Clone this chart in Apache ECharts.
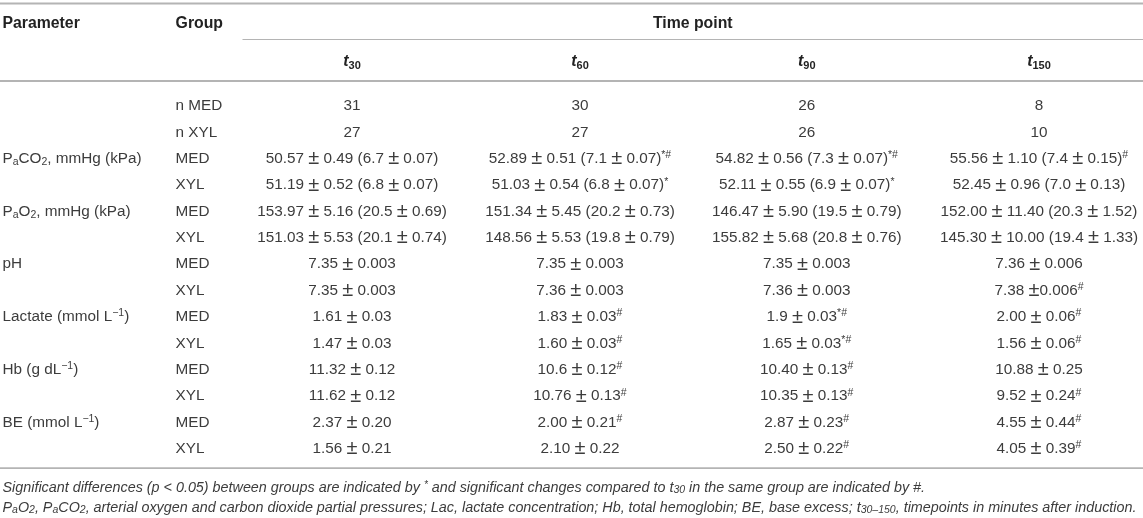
<!DOCTYPE html>
<html>
<head>
<meta charset="utf-8">
<title>Blood gas table</title>
<style>html,body{margin:0;padding:0;background:#fff}#main{width:1143px;height:518px}</style>
<script src="https://cdn.jsdelivr.net/npm/echarts@6/dist/echarts.min.js"></script>
</head>
<body>
<div id="main"></div>
<script>
// _x_ = subscript, ^x^ = superscript
var parameters = ['', '', 'P_a_CO_2_, mmHg (kPa)', '', 'P_a_O_2_, mmHg (kPa)', '', 'pH', '', 'Lactate (mmol L^\u22121^)', '', 'Hb (g dL^\u22121^)', '', 'BE (mmol L^\u22121^)', ''];
var groups = ['n MED', 'n XYL', 'MED', 'XYL', 'MED', 'XYL', 'MED', 'XYL', 'MED', 'XYL', 'MED', 'XYL', 'MED', 'XYL'];
var timePoints = ['30', '60', '90', '150'];
var t30 = ['31', '27', '50.57 ± 0.49 (6.7 ± 0.07)', '51.19 ± 0.52 (6.8 ± 0.07)', '153.97 ± 5.16 (20.5 ± 0.69)', '151.03 ± 5.53 (20.1 ± 0.74)', '7.35 ± 0.003', '7.35 ± 0.003', '1.61 ± 0.03', '1.47 ± 0.03', '11.32 ± 0.12', '11.62 ± 0.12', '2.37 ± 0.20', '1.56 ± 0.21'];
var t60 = ['30', '27', '52.89 ± 0.51 (7.1 ± 0.07)^*#^', '51.03 ± 0.54 (6.8 ± 0.07)^*^', '151.34 ± 5.45 (20.2 ± 0.73)', '148.56 ± 5.53 (19.8 ± 0.79)', '7.35 ± 0.003', '7.36 ± 0.003', '1.83 ± 0.03^#^', '1.60 ± 0.03^#^', '10.6 ± 0.12^#^', '10.76 ± 0.13^#^', '2.00 ± 0.21^#^', '2.10 ± 0.22'];
var t90 = ['26', '26', '54.82 ± 0.56 (7.3 ± 0.07)^*#^', '52.11 ± 0.55 (6.9 ± 0.07)^*^', '146.47 ± 5.90 (19.5 ± 0.79)', '155.82 ± 5.68 (20.8 ± 0.76)', '7.35 ± 0.003', '7.36 ± 0.003', '1.9 ± 0.03^*#^', '1.65 ± 0.03^*#^', '10.40 ± 0.13^#^', '10.35 ± 0.13^#^', '2.87 ± 0.23^#^', '2.50 ± 0.22^#^'];
var t150 = ['8', '10', '55.56 ± 1.10 (7.4 ± 0.15)^#^', '52.45 ± 0.96 (7.0 ± 0.13)', '152.00 ± 11.40 (20.3 ± 1.52)', '145.30 ± 10.00 (19.4 ± 1.33)', '7.36 ± 0.006', '7.38 ±0.006^#^', '2.00 ± 0.06^#^', '1.56 ± 0.06^#^', '10.88 ± 0.25', '9.52 ± 0.24^#^', '4.55 ± 0.44^#^', '4.05 ± 0.39^#^'];
var footnotes = [
    'Significant differences (p < 0.05) between groups are indicated by ^*^ and significant changes compared to t_30_ in the same group are indicated by #.',
    'P_a_O_2_, P_a_CO_2_, arterial oxygen and carbon dioxide partial pressures; Lac, lactate concentration; Hb, total hemoglobin; BE, base excess; t_30\u2013150_, timepoints in minutes after induction.'
];

var FONT = '"Liberation Sans", Arial, sans-serif';
var TEXT = '#3c3c3c';
var RULE = '#b4b4b4';
var FIRST_ROW = 7;
var LINE = 18;
var FOOT_LINE = 16;

// column and row tracks of the matrix, px
var colSizes = [175.5, 67, 219, 237, 216.5, 20, 208];
var rowSizes = [2.5, 2, 34.5, 1, 40, 2, 8.8];
groups.forEach(function () { rowSizes.push(26.38); });
rowSizes.push(7.2, 1.7, 9, 20, 20);

function richText(str, base, sub, sup) {
    // split the markup into rich text tokens
    return str.split(/(_[^_]+_|\^[^^]+\^|±)/).filter(Boolean).map(function (p) {
        if (p === '±') return '{pm|±}';
        if (p[0] === '_') return '{' + sub + '|' + p.slice(1, -1) + '}';
        if (p[0] === '^') return '{' + sup + '|' + p.slice(1, -1) + '}';
        return '{' + base + '|' + p + '}';
    }).join('');
}

var richStyles = {
    n: {fontFamily: FONT, fontSize: 15.3, color: TEXT, lineHeight: LINE},
    pm: {fontFamily: FONT, fontSize: 20, color: TEXT, lineHeight: LINE},
    sb: {fontFamily: FONT, fontSize: 10.5, color: TEXT, lineHeight: 12, verticalAlign: 'bottom'},
    sp: {fontFamily: FONT, fontSize: 10.5, color: TEXT, lineHeight: 12, verticalAlign: 'top'},
    i: {fontFamily: FONT, fontSize: 14.35, fontStyle: 'italic', color: TEXT, lineHeight: FOOT_LINE},
    isb: {fontFamily: FONT, fontSize: 10.5, fontStyle: 'italic', color: TEXT, lineHeight: 11, verticalAlign: 'bottom'},
    isp: {fontFamily: FONT, fontSize: 10, fontStyle: 'italic', color: TEXT, lineHeight: 11, verticalAlign: 'top'},
    b: {fontFamily: FONT, fontSize: 15.8, fontWeight: 'bold', color: '#222', lineHeight: LINE},
    bi: {fontFamily: FONT, fontSize: 16, fontWeight: 'bold', fontStyle: 'italic', color: '#222', lineHeight: LINE},
    bsb: {fontFamily: FONT, fontSize: 11, fontWeight: 'bold', color: '#222', lineHeight: 12, verticalAlign: 'bottom'}
};

// rich text sits at the top of the cell box, so push it down to the middle
function topPad(row) {
    return Math.max(0, (rowSizes[row] - LINE) / 2) + 2;
}

function cell(coord, row, text, left, pad) {
    return {
        coord: [coord, row],
        value: text,
        mergeCells: Array.isArray(coord),
        label: {
            show: true,
            position: left ? 'insideLeft' : 'inside',
            distance: 0,
            align: left ? 'left' : 'center',
            padding: [pad == null ? topPad(row) : pad, 0, 0, left ? left : 0],
            rich: richStyles
        }
    };
}

function ruleRow(fromCol, row) {
    return {
        coord: [[fromCol, colSizes.length - 1], row],
        mergeCells: true,
        value: '',
        itemStyle: {color: RULE, borderWidth: 0}
    };
}

var cells = [];
cells.push(ruleRow(0, 1), ruleRow(2, 3), ruleRow(0, 5), ruleRow(0, 22));

// header
cells.push(cell(0, 2, '{b|Parameter}', 2.5));
cells.push(cell(1, 2, '{b|Group}', 0.1));
cells.push(cell([2, 6], 2, '{b|Time point}'));
var valueCols = [2, 3, 4, 6];
timePoints.forEach(function (tp, i) {
    cells.push(cell(valueCols[i], 4, '{bi|t}{bsb|' + tp + '}'));
});

// body
[t30, t60, t90, t150].forEach(function (vals, i) {
    vals.forEach(function (v, r) {
        cells.push(cell(valueCols[i], FIRST_ROW + r, richText(v, 'n', 'sb', 'sp')));
    });
});
parameters.forEach(function (p, r) {
    if (p) cells.push(cell(0, FIRST_ROW + r, richText(p, 'n', 'sb', 'sp'), 2.5));
});
groups.forEach(function (g, r) {
    cells.push(cell(1, FIRST_ROW + r, richText(g, 'n', 'sb', 'sp'), 0.1));
});

// footnotes span the whole width
footnotes.forEach(function (f, i) {
    cells.push(cell([0, 6], 24 + i, richText(f, 'i', 'isb', 'isp'), 2.5, 2));
});

var chart = echarts.init(document.getElementById('main'), null, {renderer: 'canvas'});
chart.setOption({
    animation: false,
    backgroundColor: '#fff',
    matrix: {
        left: 0, top: 0, right: 0, bottom: 0,
        backgroundStyle: {color: 'transparent', borderWidth: 0},
        borderZ2: -1,
        x: {
            show: false,
            dividerLineStyle: {width: 0},
            data: colSizes.map(function (s, i) { return {value: 'c' + i, size: s}; })
        },
        y: {
            show: false,
            dividerLineStyle: {width: 0},
            data: rowSizes.map(function (s, i) { return {value: 'r' + i, size: s}; })
        },
        body: {
            silent: true,
            itemStyle: {color: 'transparent', borderWidth: 0},
            dividerLineStyle: {width: 0},
            label: {show: true, color: TEXT, fontFamily: FONT, fontSize: 16, overflow: 'none'},
            data: cells
        }
    }
});
</script>
</body>
</html>
